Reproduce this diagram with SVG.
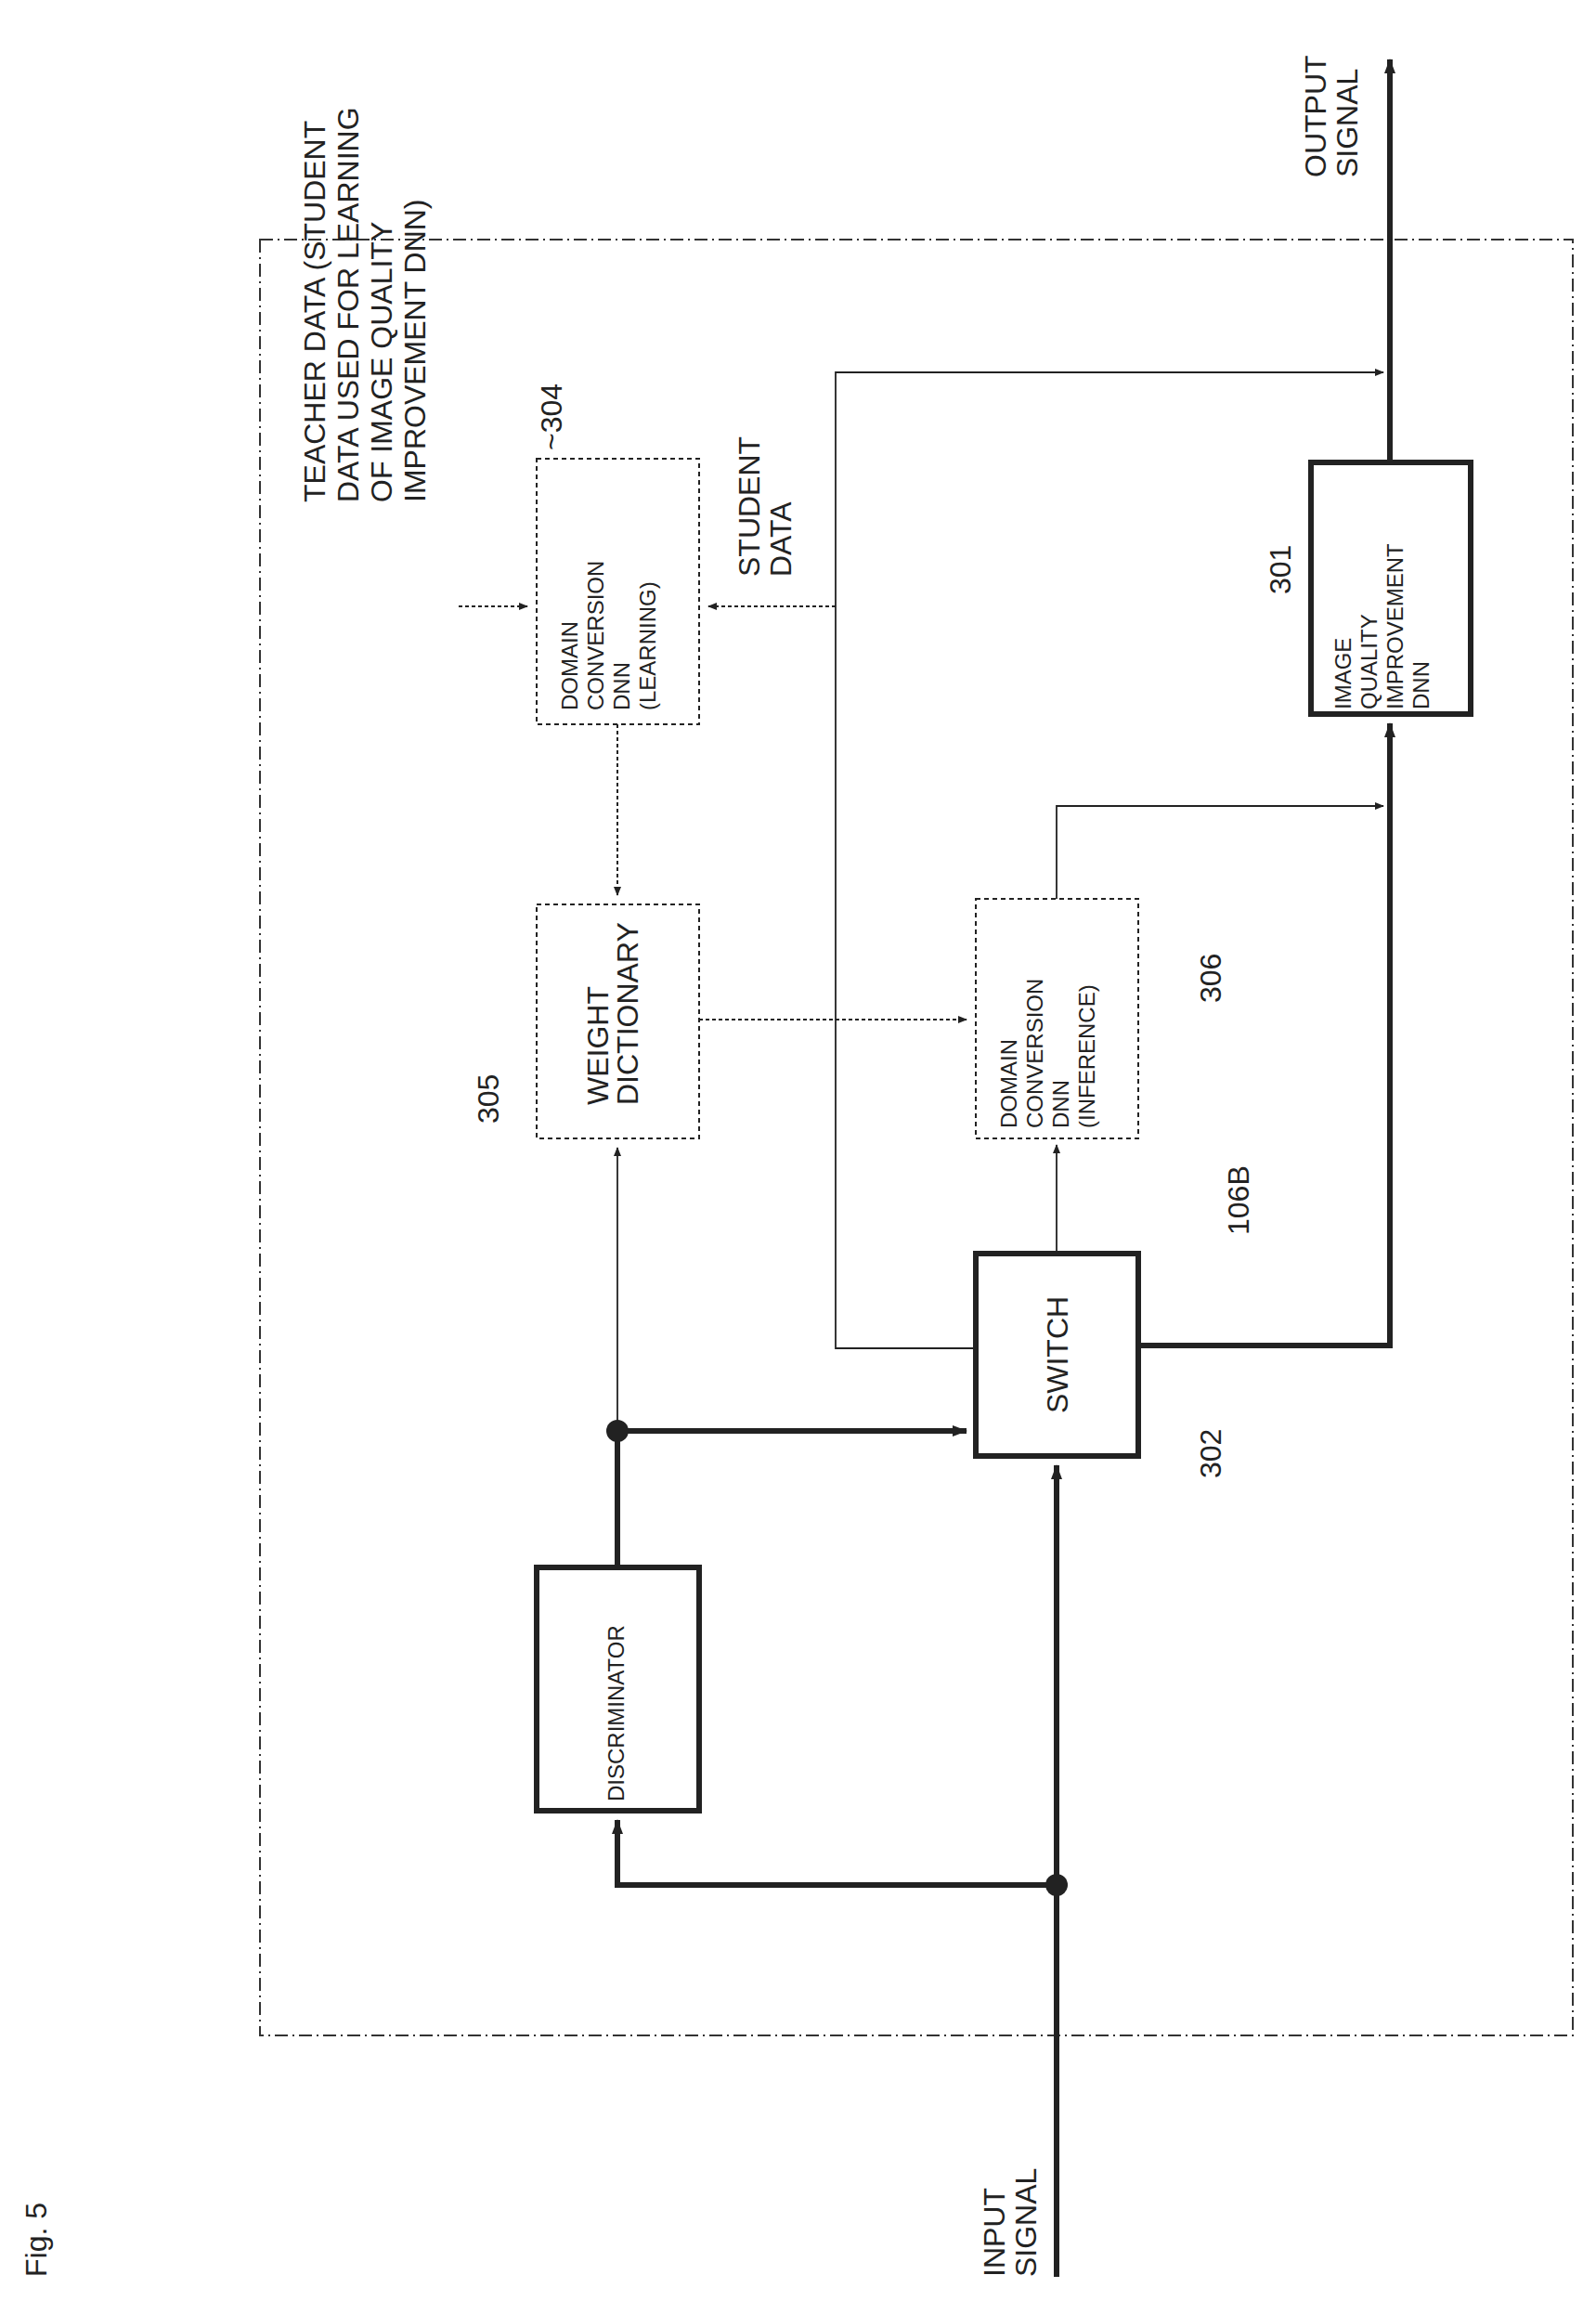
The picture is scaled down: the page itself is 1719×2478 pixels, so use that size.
<svg xmlns="http://www.w3.org/2000/svg" width="1719" height="2478" viewBox="0 0 1719 2478">
<style>
text{font-family:"Liberation Sans",Arial,sans-serif;fill:#222}
.big{font-size:32px}
.box{font-size:24px}
.thick{stroke:#222;stroke-width:6;fill:none}
.thin{stroke:#222;stroke-width:1.8;fill:none}
.dot{stroke:#222;stroke-width:2;fill:none;stroke-dasharray:4 3}
.nb{fill:#fff;stroke:#222;stroke-width:6}
.db{fill:#fff;stroke:#222;stroke-width:2;stroke-dasharray:5 4}
</style>
<defs>
<marker id="a" markerWidth="10" markerHeight="10" refX="9" refY="5" orient="auto" markerUnits="userSpaceOnUse"><path d="M0,1 L10,5 L0,9 z" fill="#222"/></marker>
<marker id="A" markerWidth="16" markerHeight="14" refX="15" refY="7" orient="auto" markerUnits="userSpaceOnUse"><path d="M0,1 L16,7 L0,13 z" fill="#222"/></marker>
</defs>
<rect width="1719" height="2478" fill="#fff"/>
<rect x="280" y="258" width="1414" height="1934" fill="none" stroke="#333" stroke-width="2" stroke-dasharray="14 5 2 5"/>
<text class="big" transform="translate(50,2452) rotate(-90)">Fig. 5</text>
<text class="big" transform="translate(1082,2452) rotate(-90)"><tspan x="0">INPUT</tspan><tspan x="0" dy="34">SIGNAL</tspan></text>
<text class="big" transform="translate(1428,191) rotate(-90)"><tspan x="0">OUTPUT</tspan><tspan x="0" dy="34">SIGNAL</tspan></text>
<text class="big" transform="translate(1345,1330) rotate(-90)">106B</text>
<text class="big" transform="translate(350,541) rotate(-90)"><tspan x="0">TEACHER DATA (STUDENT</tspan><tspan x="0" dy="36">DATA USED FOR LEARNING</tspan><tspan x="0" dy="36">OF IMAGE QUALITY</tspan><tspan x="0" dy="36">IMPROVEMENT DNN)</tspan></text>
<text class="big" transform="translate(818,621) rotate(-90)"><tspan x="0">STUDENT</tspan><tspan x="0" dy="34">DATA</tspan></text>
<text class="big" transform="translate(607,1790) rotate(-90)">303</text>
<text class="big" transform="translate(1315,1592) rotate(-90)">302</text>
<text class="big" transform="translate(537,1210) rotate(-90)">305</text>
<text class="big" transform="translate(1315,1080) rotate(-90)">306</text>
<text class="big" transform="translate(605,485) rotate(-90)">~304</text>
<text class="big" transform="translate(1390,640) rotate(-90)">301</text>
<g id="connectors">
<polyline class="thick" points="1138,2452 1138,1578" marker-end="url(#A)"/>
<polyline class="thick" points="1138,2030 665,2030 665,1960" marker-end="url(#A)"/>
<polyline class="thick" points="665,1688 665,1541 1041,1541" marker-end="url(#A)"/>
<polyline class="thin" points="665,1541 665,1236" marker-end="url(#a)"/>
<polyline class="thick" points="1226,1449 1497,1449 1497,779" marker-end="url(#A)"/>
<polyline class="thick" points="1497,498 1497,64" marker-end="url(#A)"/>
<polyline class="thin" points="1138,1350 1138,1233" marker-end="url(#a)"/>
<polyline class="thin" points="1051,1452 900,1452 900,401 1490,401" marker-end="url(#a)"/>
<polyline class="dot" points="900,653 763,653" marker-end="url(#a)"/>
<polyline class="dot" points="494,653 568,653" marker-end="url(#a)"/>
<polyline class="dot" points="665,780 665,964" marker-end="url(#a)"/>
<polyline class="dot" points="753,1098 1041,1098" marker-end="url(#a)"/>
<polyline class="thin" points="1138,968 1138,868 1490,868" marker-end="url(#a)"/>
<circle cx="1138" cy="2030" r="12" fill="#222"/>
<circle cx="665" cy="1541" r="12" fill="#222"/>
</g>
<g id="n303"><rect class="nb" x="578" y="1688" width="175" height="262"/><text class="box" transform="translate(672,1940) rotate(-90)">DISCRIMINATOR</text></g>
<g id="n302"><rect class="nb" x="1051" y="1350" width="175" height="218"/><text class="big" text-anchor="middle" transform="translate(1150,1459) rotate(-90)">SWITCH</text></g>
<g id="n304"><rect class="db" x="578" y="494" width="175" height="286"/><text class="box" transform="translate(622,765) rotate(-90)"><tspan x="0">DOMAIN</tspan><tspan x="0" dy="28">CONVERSION</tspan><tspan x="0" dy="28">DNN</tspan><tspan x="0" dy="28">(LEARNING)</tspan></text></g>
<g id="n305"><rect class="db" x="578" y="974" width="175" height="252"/><text class="big" transform="translate(655,1190) rotate(-90)"><tspan x="0">WEIGHT</tspan><tspan x="0" dy="32">DICTIONARY</tspan></text></g>
<g id="n306"><rect class="db" x="1051" y="968" width="175" height="258"/><text class="box" transform="translate(1095,1215) rotate(-90)"><tspan x="0">DOMAIN</tspan><tspan x="0" dy="28">CONVERSION</tspan><tspan x="0" dy="28">DNN</tspan><tspan x="0" dy="28">(INFERENCE)</tspan></text></g>
<g id="n301"><rect class="nb" x="1412" y="498" width="172" height="271"/><text class="box" transform="translate(1455,764) rotate(-90)"><tspan x="0">IMAGE</tspan><tspan x="0" dy="28">QUALITY</tspan><tspan x="0" dy="28">IMPROVEMENT</tspan><tspan x="0" dy="28">DNN</tspan></text></g>
</svg>
